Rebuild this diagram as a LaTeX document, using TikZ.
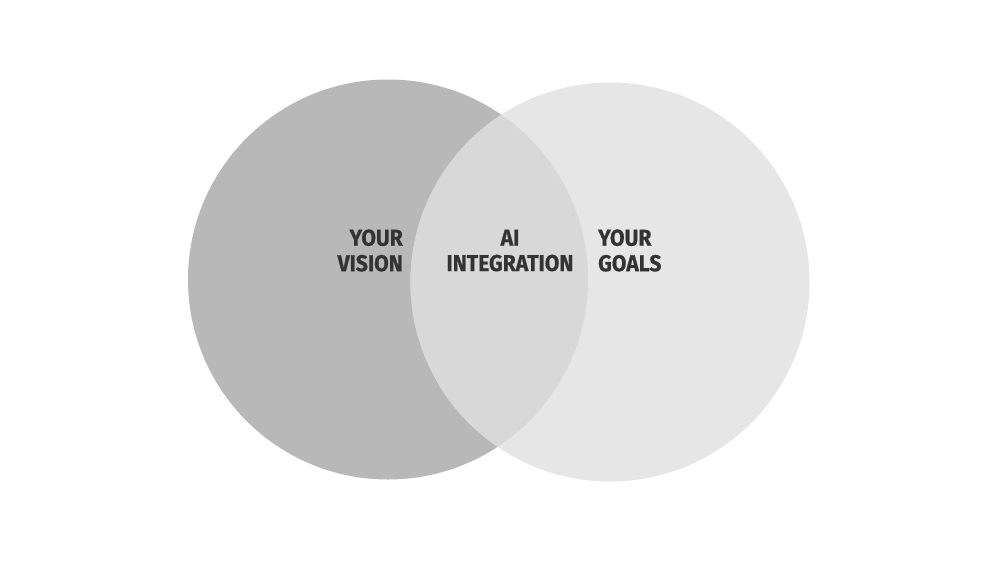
\documentclass[tikz,border=0pt]{standalone}
\usepackage{fontspec}
\newfontfamily\labelfont[FakeStretch=0.92,FakeBold=0.6]{Fira Sans}
\definecolor{leftc}{HTML}{B8B8B8}
\definecolor{rightc}{HTML}{E6E6E6}
\definecolor{midc}{HTML}{D8D8D8}
\definecolor{textc}{HTML}{333333}
\begin{document}
\begin{tikzpicture}[x=1pt,y=-1pt,
  lbl/.style={font=\labelfont\bfseries\fontsize{23}{25.5}\selectfont, text=textc, inner sep=0pt}]
\useasboundingbox (0,0) rectangle (1000,563);
\fill[white] (0,0) rectangle (1000,563);
\fill[leftc] (388,279.5) circle[radius=200];
\fill[rightc] (610,282) circle[radius=199.5];
\begin{scope}
  \clip (388,279.5) circle[radius=200];
  \fill[midc] (610,282) circle[radius=199.5];
\end{scope}
\node[lbl, align=right, anchor=east] (vision) at (403,250.5) {YOUR\\VISION};
\node[lbl, align=center] (ai) at (510,250.5) {AI\\INTEGRATION};
\node[lbl, align=left, anchor=west] (goals) at (598,250.5) {YOUR\\GOALS};
\end{tikzpicture}
\end{document}
